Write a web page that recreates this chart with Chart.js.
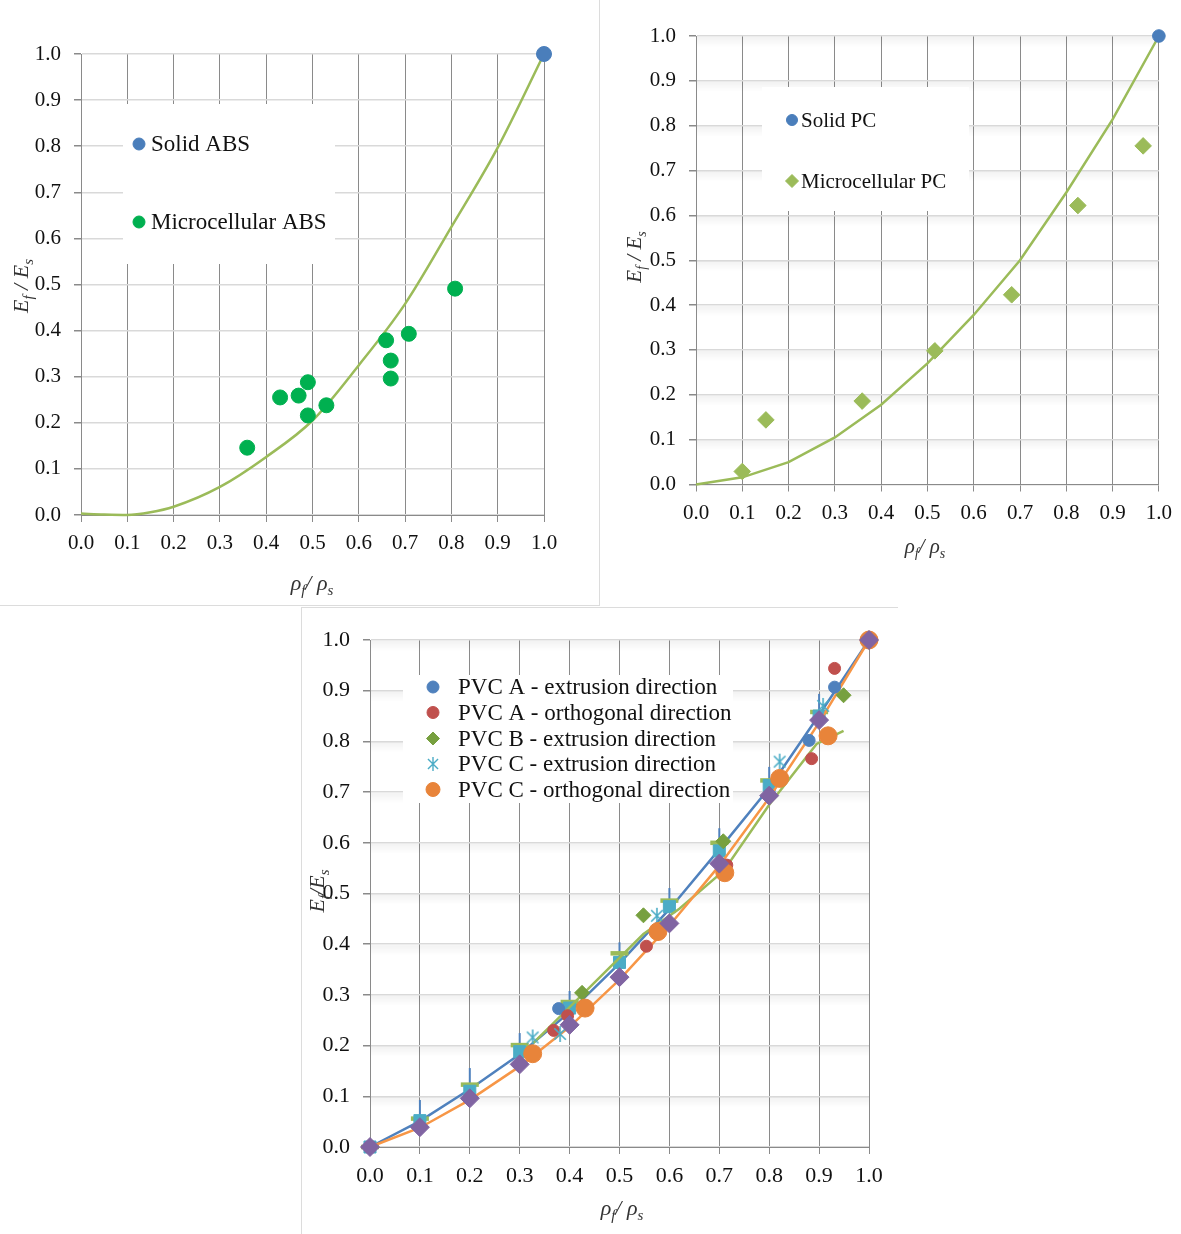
<!DOCTYPE html>
<html>
<head>
<meta charset="utf-8">
<script src="https://cdn.jsdelivr.net/npm/chart.js@4.4.0/dist/chart.umd.min.js"></script>
<style>
  html, body { margin: 0; padding: 0; background: #fff; }
  body { width: 1181px; height: 1234px; position: relative; overflow: hidden; }
  canvas { position: absolute; }
  .rule { position: absolute; background: #dcdcdc; z-index: 2; }
</style>
</head>
<body>
<canvas id="absChart" width="598" height="604" style="left:0;top:0"></canvas>
<canvas id="pcChart" width="580" height="560" style="left:601px;top:0"></canvas>
<canvas id="pvcChart" width="597" height="625" style="left:301px;top:609px"></canvas>
<div class="rule" style="left:599px;top:0;width:1px;height:606px"></div>
<div class="rule" style="left:0;top:605px;width:600px;height:1px"></div>
<div class="rule" style="left:301px;top:607px;width:597px;height:1px"></div>
<div class="rule" style="left:301px;top:607px;width:1px;height:627px"></div>
<script>
// ejes comunes
const tickValues = [0, 0.1, 0.2, 0.3, 0.4, 0.5, 0.6, 0.7, 0.8, 0.9, 1.0];
const tickLabels = ['0.0', '0.1', '0.2', '0.3', '0.4', '0.5', '0.6', '0.7', '0.8', '0.9', '1.0'];

// ABS
const absSolidX = [1.0];
const absSolidY = [1.0];
const absMicroX = [0.359, 0.430, 0.470, 0.490, 0.490, 0.530, 0.659, 0.669, 0.669, 0.708, 0.808];
const absMicroY = [0.146, 0.255, 0.259, 0.288, 0.216, 0.238, 0.379, 0.335, 0.296, 0.393, 0.491];
const absFitX = [0, 0.05, 0.1, 0.15, 0.2, 0.3, 0.4, 0.5, 0.6, 0.7, 0.8, 0.9, 1.0];
const absFitY = [0.003, 0.001, 0, 0.006, 0.018, 0.061, 0.126, 0.205, 0.325, 0.458, 0.625, 0.797, 1.0];

// PC
const pcSolidX = [1.0];
const pcSolidY = [1.0];
const pcMicroX = [0.100, 0.151, 0.359, 0.516, 0.682, 0.825, 0.966];
const pcMicroY = [0.029, 0.144, 0.186, 0.298, 0.423, 0.622, 0.755];
const pcFitX = [0, 0.1, 0.2, 0.3, 0.4, 0.5, 0.6, 0.7, 0.8, 0.9, 1.0];
const pcFitY = [0, 0.016, 0.05, 0.105, 0.178, 0.27, 0.378, 0.5, 0.651, 0.814, 1.0];

// PVC
const pvcAextX = [0, 0.378, 0.880, 0.931, 1.0];
const pvcAextY = [0, 0.273, 0.802, 0.907, 1.0];
const pvcAortX = [0, 0.368, 0.396, 0.554, 0.715, 0.885, 0.931, 1.0];
const pvcAortY = [0, 0.230, 0.259, 0.396, 0.556, 0.766, 0.944, 1.0];
const pvcBextX = [0.425, 0.548, 0.708, 0.949, 1.0];
const pvcBextY = [0.304, 0.457, 0.603, 0.891, 1.0];
const pvcCextX = [0.326, 0.381, 0.575, 0.821, 0.908, 1.0];
const pvcCextY = [0.216, 0.223, 0.456, 0.760, 0.870, 1.0];
const pvcCortX = [0.326, 0.431, 0.577, 0.711, 0.821, 0.918, 1.0];
const pvcCortY = [0.184, 0.274, 0.425, 0.541, 0.727, 0.811, 1.0];
// series sin leyenda
const pvcModelX = [0, 0.1, 0.2, 0.3, 0.4, 0.5, 0.6, 0.7, 0.8, 0.9, 1.0];
const pvcUpperY = [0, 0.051, 0.114, 0.183, 0.266, 0.362, 0.469, 0.587, 0.708, 0.852, 1.0];
const pvcDashY = [0, 0.056, 0.123, 0.201, 0.286, 0.382, 0.486, 0.600, 0.723, 0.858, 1.0];
const pvcSquareY = [0, 0.052, 0.110, 0.188, 0.274, 0.364, 0.474, 0.584, 0.713, 0.850, 1.0];
const pvcLowerY = [0, 0.038, 0.093, 0.159, 0.237, 0.330, 0.437, 0.555, 0.689, 0.837, 1.0];
const pvcDiamondY = [0, 0.039, 0.096, 0.163, 0.241, 0.335, 0.441, 0.559, 0.693, 0.842, 1.0];
const pvcBarX = [0.1, 0.2, 0.3, 0.4, 0.5, 0.6, 0.7, 0.8, 0.9];
const pvcBarY = [0.073, 0.136, 0.205, 0.288, 0.384, 0.491, 0.609, 0.730, 0.874];
const pvcBlineX = [0.327, 0.425, 0.548, 0.62, 0.709, 0.80, 0.895, 0.949];
const pvcBlineY = [0.205, 0.300, 0.420, 0.470, 0.545, 0.675, 0.795, 0.821];

const serif = '"Liberation Serif", "Times New Roman", serif';

function pts(xs, ys) {
    return xs.map((x, i) => ({ x: x, y: ys[i] }));
}

// asterisco de 6 brazos (como el de Excel)
function asterisco(r, color, lw) {
    const c = document.createElement('canvas');
    const s = Math.ceil(2 * r + 4);
    c.width = s; c.height = s;
    const g = c.getContext('2d');
    const m = s / 2, d = r * 0.72;
    g.strokeStyle = color;
    g.lineWidth = lw;
    g.beginPath();
    g.moveTo(m, m - r); g.lineTo(m, m + r);
    g.moveTo(m - d, m - d); g.lineTo(m + d, m + d);
    g.moveTo(m + d, m - d); g.lineTo(m - d, m + d);
    g.stroke();
    return c;
}

function escalas(fontSize, yWidth, xHeight) {
    return {
        x: {
            type: 'linear', min: 0, max: 1,
            afterBuildTicks: s => { s.ticks = tickValues.map(v => ({ value: v })); },
            afterFit: s => { s.height = xHeight; },
            ticks: { callback: (v, i) => tickLabels[i], color: '#111', font: { family: serif, size: fontSize }, padding: 9, maxRotation: 0, autoSkip: false },
            grid: { color: '#8a8a8a', lineWidth: 1, tickLength: 7, tickColor: '#8a8a8a' },
            border: { color: '#8a8a8a', width: 1 }
        },
        y: {
            type: 'linear', min: 0, max: 1,
            afterBuildTicks: s => { s.ticks = tickValues.map(v => ({ value: v })); },
            afterFit: s => { s.width = yWidth; },
            ticks: { callback: (v, i) => tickLabels[i], color: '#111', font: { family: serif, size: fontSize }, padding: 13, autoSkip: false },
            grid: { color: '#d9d9d9', lineWidth: 1.5, tickLength: 7, tickColor: '#8a8a8a' },
            border: { color: '#8a8a8a', width: 1 }
        }
    };
}

// texto con subindices (titulos de ejes)
function textoRico(ctx, parts, cx, cy, rotar, size) {
    const big = 'italic ' + size + 'px ' + serif;
    const small = 'italic ' + Math.round(size * 0.68) + 'px ' + serif;
    ctx.save();
    ctx.translate(cx, cy);
    if (rotar) ctx.rotate(-Math.PI / 2);
    let total = 0;
    const anchos = parts.map(p => {
        ctx.font = p.sub ? small : big;
        const w = ctx.measureText(p.t).width;
        total += w;
        return w;
    });
    let x = -total / 2;
    ctx.fillStyle = '#333';
    ctx.textBaseline = 'alphabetic';
    parts.forEach((p, i) => {
        ctx.font = p.sub ? small : big;
        ctx.fillText(p.t, x, size * 0.33 + (p.sub ? size * 0.22 : 0));
        x += anchos[i];
    });
    ctx.restore();
}

function marcador(ctx, style, r, color, x, y) {
    ctx.save();
    if (style instanceof HTMLCanvasElement) {
        ctx.drawImage(style, x - style.width / 2, y - style.height / 2);
        ctx.restore();
        return;
    }
    ctx.fillStyle = color;
    ctx.strokeStyle = color;
    ctx.lineWidth = 1;
    if (Chart.helpers && Chart.helpers.drawPoint) {
        Chart.helpers.drawPoint(ctx, { pointStyle: style, radius: r, rotation: 0, borderWidth: 1 }, x, y);
    } else {
        ctx.beginPath();
        ctx.arc(x, y, r, 0, Math.PI * 2);
        ctx.fill();
    }
    ctx.restore();
}

// decoracion de cada panel: bandas de la rejilla, leyenda y titulos
function decorado(cfg) {
    return {
        id: 'decorado',
        beforeDatasetsDraw(chart) {
            const ctx = chart.ctx;
            const area = chart.chartArea;
            ctx.save();
            if (cfg.bandas) {
                chart.scales.y.ticks.forEach(t => {
                    const py = chart.scales.y.getPixelForValue(t.value);
                    if (py > area.bottom - 2) return;
                    const g = ctx.createLinearGradient(0, py + 1, 0, py + 11);
                    g.addColorStop(0, 'rgba(0,0,0,0.05)');
                    g.addColorStop(1, 'rgba(0,0,0,0)');
                    ctx.fillStyle = g;
                    ctx.fillRect(area.left + 1, py + 1, area.right - area.left - 1, 10);
                });
            }
            const b = cfg.leyenda.box;
            ctx.fillStyle = '#fff';
            ctx.fillRect(b[0], b[1], b[2], b[3]);
            ctx.restore();
        },
        afterDatasetsDraw(chart) {
            const ctx = chart.ctx;
            const ley = cfg.leyenda;
            ctx.save();
            ctx.font = ley.size + 'px ' + serif;
            ctx.textBaseline = 'middle';
            ctx.textAlign = 'left';
            ley.items.forEach((it, k) => {
                const ds = chart.data.datasets[it.ds];
                const y = ley.rows[k];
                marcador(ctx, it.style, it.r, ds.backgroundColor, ley.markerX, y);
                ctx.fillStyle = '#111';
                ctx.fillText(ds.label, ley.textX, y + 1);
            });
            ctx.restore();
        },
        afterDraw(chart) {
            cfg.titulos.forEach(t => textoRico(chart.ctx, t.parts, t.x, t.y, t.rotar, t.size));
        }
    };
}

function opciones(fontSize, yWidth, xHeight, padding) {
    return {
        responsive: false,
        animation: false,
        layout: { padding: padding },
        plugins: { legend: { display: false }, tooltip: { enabled: false } },
        scales: escalas(fontSize, yWidth, xHeight)
    };
}

const tituloE = (sp) => [{ t: 'E' }, { t: 'f', sub: true }, { t: sp ? ' / ' : '/' }, { t: 'E' }, { t: 's', sub: true }];
const tituloRho = [{ t: 'ρ' }, { t: 'f', sub: true }, { t: '/ ' }, { t: 'ρ' }, { t: 's', sub: true }];

// ---------- ABS ----------
new Chart(document.getElementById('absChart'), {
    type: 'scatter',
    data: {
        datasets: [
            { label: 'Solid ABS', data: pts(absSolidX, absSolidY), pointRadius: 7.5, backgroundColor: '#4A7EBB', borderColor: '#4A7EBB', showLine: false, order: 0, clip: false },
            { label: 'Microcellular ABS', data: pts(absMicroX, absMicroY), pointRadius: 7.5, backgroundColor: '#00B050', borderColor: '#00B050', showLine: false, order: 1, clip: false },
            { label: 'ajuste', data: pts(absFitX, absFitY), showLine: true, pointRadius: 0, borderColor: '#9BBB59', borderWidth: 2.5, cubicInterpolationMode: 'monotone', order: 2, clip: false }
        ]
    },
    options: opciones(21, 81, 89, { top: 54, right: 54, left: 0, bottom: 0 }),
    plugins: [decorado({
        leyenda: { box: [123, 104, 212, 160], markerX: 139, textX: 151, size: 23, rows: [144, 222],
            items: [{ ds: 0, style: 'circle', r: 6 }, { ds: 1, style: 'circle', r: 6 }] },
        titulos: [
            { parts: tituloE(true), x: 21, y: 286, rotar: true, size: 22 },
            { parts: tituloRho, x: 312, y: 583, rotar: false, size: 22 }
        ]
    })]
});

// ---------- PC ----------
new Chart(document.getElementById('pcChart'), {
    type: 'scatter',
    data: {
        datasets: [
            { label: 'Solid PC', data: pts(pcSolidX, pcSolidY), pointRadius: 6.3, backgroundColor: '#4A7EBB', borderColor: '#4A7EBB', showLine: false, order: 0, clip: false },
            { label: 'Microcellular PC', data: pts(pcMicroX, pcMicroY), pointStyle: 'rectRot', pointRadius: 8.3, backgroundColor: '#9BBB59', borderColor: '#9BBB59', showLine: false, order: 1, clip: false },
            { label: 'ajuste', data: pts(pcFitX, pcFitY), showLine: true, pointRadius: 0, borderColor: '#9BBB59', borderWidth: 2.5, tension: 0, order: 2, clip: false }
        ]
    },
    options: opciones(21, 95, 75.5, { top: 36, right: 22, left: 0, bottom: 0 }),
    plugins: [decorado({
        bandas: true,
        leyenda: { box: [161, 87, 207, 124], markerX: 191, textX: 200, size: 21, rows: [120, 181],
            items: [{ ds: 0, style: 'circle', r: 5.5 }, { ds: 1, style: 'rectRot', r: 6.5 }] },
        titulos: [
            { parts: tituloE(true), x: 33, y: 257, rotar: true, size: 21 },
            { parts: tituloRho, x: 324, y: 546, rotar: false, size: 21 }
        ]
    })]
});

// ---------- PVC ----------
const estrellaDatos = asterisco(8, '#4BACC6', 1.6);
const estrellaLeyenda = asterisco(7, '#4BACC6', 1.4);

new Chart(document.getElementById('pvcChart'), {
    type: 'scatter',
    data: {
        datasets: [
            { label: 'PVC A - extrusion direction', data: pts(pvcAextX, pvcAextY), pointRadius: 6, backgroundColor: '#4F81BD', borderColor: '#4F81BD', showLine: false, order: 5, clip: false },
            { label: 'PVC A - orthogonal direction', data: pts(pvcAortX, pvcAortY), pointRadius: 6, backgroundColor: '#C0504D', borderColor: '#C0504D', showLine: false, order: 4, clip: false },
            { label: 'PVC B - extrusion direction', data: pts(pvcBextX, pvcBextY), pointStyle: 'rectRot', pointRadius: 7.5, backgroundColor: '#77A03F', borderColor: '#77A03F', showLine: false, order: 3, clip: false },
            { label: 'PVC C - extrusion direction', data: pts(pvcCextX, pvcCextY), pointStyle: estrellaDatos, pointRadius: 8, backgroundColor: '#4BACC6', borderColor: '#4BACC6', showLine: false, order: 2, clip: false },
            { label: 'PVC C - orthogonal direction', data: pts(pvcCortX, pvcCortY), pointRadius: 9, backgroundColor: '#E8843A', borderColor: '#E8843A', showLine: false, order: 1, clip: false },
            // sin leyenda
            { label: 'modelo superior', data: pts(pvcModelX, pvcUpperY), showLine: true, pointRadius: 0, borderColor: '#4F81BD', borderWidth: 2.5, tension: 0, order: 12, clip: false },
            { label: 'barras', data: pts(pvcBarX, pvcBarY), showLine: false, pointStyle: 'line', pointRotation: 90, pointRadius: 10, pointBorderWidth: 2, borderColor: '#4F81BD', backgroundColor: '#4F81BD', order: 11, clip: false },
            { label: 'guiones', data: pts(pvcModelX, pvcDashY), showLine: false, pointStyle: 'line', pointRadius: 9, pointBorderWidth: 4.5, borderColor: '#9BBB59', backgroundColor: '#9BBB59', order: 10, clip: false },
            { label: 'cuadros', data: pts(pvcModelX, pvcSquareY), showLine: false, pointStyle: 'rect', pointRadius: 8.5, borderColor: '#4BACC6', backgroundColor: '#4BACC6', order: 9, clip: false },
            { label: 'modelo B', data: pts(pvcBlineX, pvcBlineY), showLine: true, pointRadius: 0, borderColor: '#9BBB59', borderWidth: 2.5, tension: 0, order: 8, clip: false },
            { label: 'modelo inferior', data: pts(pvcModelX, pvcLowerY), showLine: true, pointRadius: 0, borderColor: '#F79646', borderWidth: 2.5, tension: 0, order: 7, clip: false },
            { label: 'rombos', data: pts(pvcModelX, pvcDiamondY), showLine: false, pointStyle: 'rectRot', pointRadius: 9.5, borderColor: '#8064A2', backgroundColor: '#8064A2', order: 0, clip: false }
        ]
    },
    options: opciones(22, 69, 87, { top: 31, right: 29, left: 0, bottom: 0 }),
    plugins: [decorado({
        bandas: true,
        leyenda: { box: [102, 66, 330, 128], markerX: 132, textX: 157, size: 23, rows: [78, 103.5, 129.5, 155, 180.5],
            items: [{ ds: 0, style: 'circle', r: 6 }, { ds: 1, style: 'circle', r: 6 }, { ds: 2, style: 'rectRot', r: 6.5 },
                { ds: 3, style: estrellaLeyenda, r: 7 }, { ds: 4, style: 'circle', r: 7 }] },
        titulos: [
            { parts: tituloE(false), x: 16, y: 282, rotar: true, size: 22 },
            { parts: tituloRho, x: 321, y: 599, rotar: false, size: 22 }
        ]
    })]
});
</script>
</body>
</html>
